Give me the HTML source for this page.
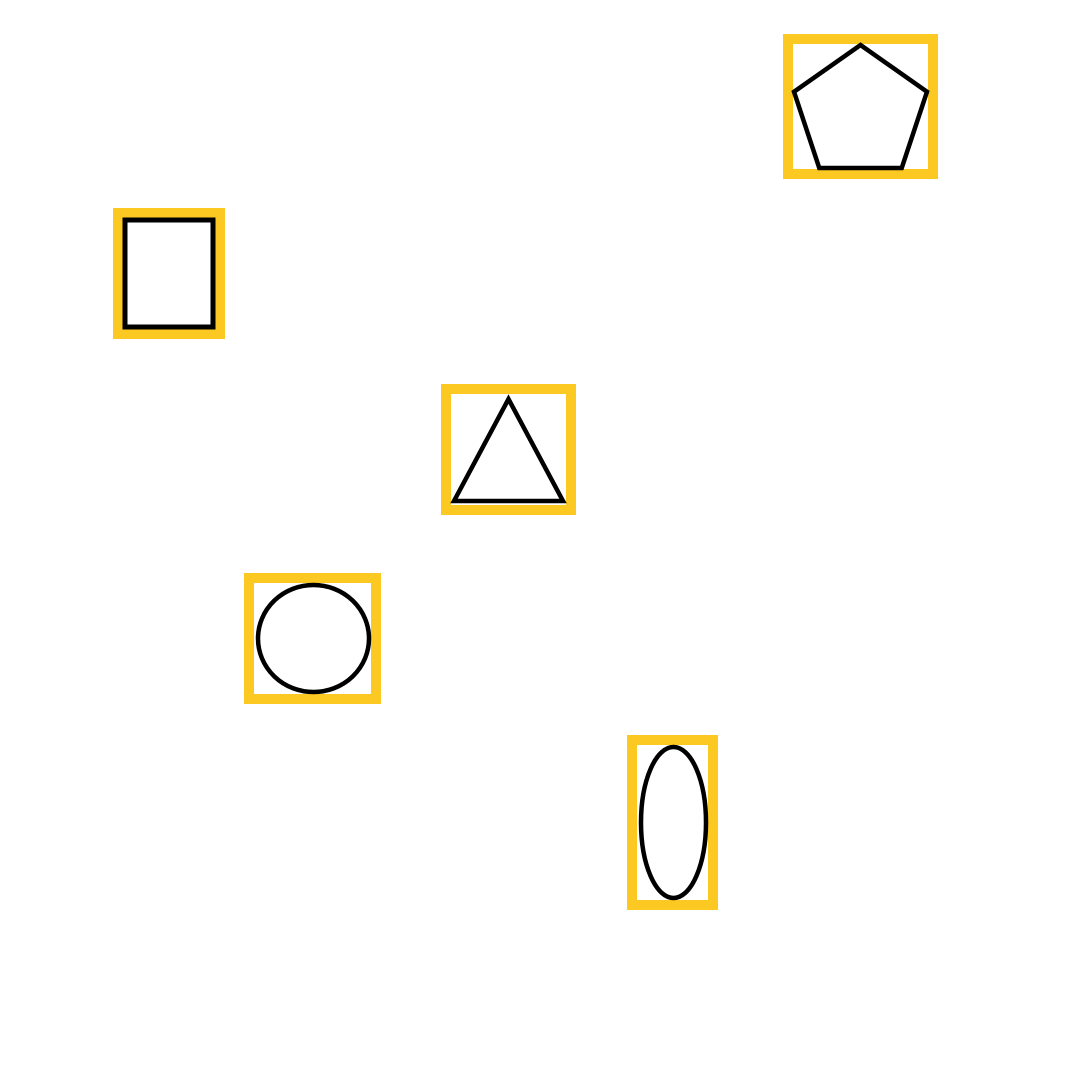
<!DOCTYPE html>
<html><head><meta charset="utf-8"><style>html,body{margin:0;padding:0;background:#fff}svg{display:block}</style></head>
<body>
<svg id="chart" width="1080" height="1080" viewBox="0 0 1080 1080" xmlns="http://www.w3.org/2000/svg">
<rect x="0" y="0" width="1080" height="1080" fill="#fff"/>
</svg>
<script>
const shapeNames = ["pentagon","square","triangle","circle","ellipse"];
const boxX = [788, 118, 446, 249, 632];
const boxY = [39, 213, 389, 578, 740];
const boxW = [145, 102, 125, 127, 81];
const boxH = [135, 121, 121, 121, 165];
const svg = document.getElementById('chart');
const NS = 'http://www.w3.org/2000/svg';
function mk(tag, attrs){const e=document.createElementNS(NS,tag);for(const k in attrs)e.setAttribute(k,attrs[k]);return e;}
shapeNames.forEach((n,i)=>{
  const x=boxX[i], y=boxY[i], w=boxW[i], h=boxH[i];
  const g=mk('g',{});
  
  
  const b=mk('rect',{x:x,y:y,width:w,height:h,fill:'none',stroke:'#fcc923','stroke-width':10});
  
  
  g.appendChild(b);
  const ix=x+6, iy=y+6, iw=w-12, ih=h-12;
  let s;
  if(n==='pentagon'){
    const cx=ix+iw/2;
    const pts=[[cx,iy],[ix+iw,iy+ih*0.38],[ix+iw*0.81,iy+ih],[ix+iw*0.19,iy+ih],[ix,iy+ih*0.38]];
    s=mk('polygon',{points:pts.map(p=>p.join(',')).join(' '),fill:'none',stroke:'#000','stroke-width':4.5});
  } else if(n==='square'){
    s=mk('rect',{x:ix+1,y:iy+1,width:iw-2,height:ih-2,fill:'none',stroke:'#000','stroke-width':5});
  } else if(n==='triangle'){
    const pts=[[ix+iw/2,iy+4],[ix+iw-2,iy+ih-3],[ix+2,iy+ih-3]];
    s=mk('polygon',{points:pts.map(p=>p.join(',')).join(' '),fill:'none',stroke:'#000','stroke-width':4.5});
  } else {
    s=mk('ellipse',{cx:ix+iw/2+1,cy:iy+ih/2,rx:iw/2-2,ry:ih/2-1,fill:'none',stroke:'#000','stroke-width':4.5});
  }
  
  
  g.appendChild(s);
  svg.appendChild(g);
});
</script>
</body></html>
